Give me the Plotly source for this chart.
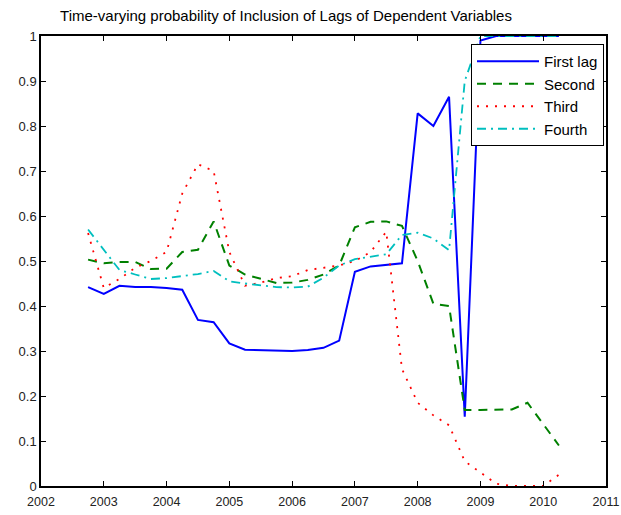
import plotly.graph_objects as go

# quarterly dates (fractional years)
dates = [2002.75, 2003.0, 2003.25, 2003.5, 2003.75, 2004.0, 2004.25, 2004.5,
         2004.75, 2005.0, 2005.25, 2005.5, 2005.75, 2006.0, 2006.25, 2006.5,
         2006.75, 2007.0, 2007.25, 2007.5, 2007.75, 2008.0, 2008.25, 2008.5,
         2008.75, 2009.0, 2009.25, 2009.5, 2009.75, 2010.0, 2010.25]

first_lag = [0.442, 0.427, 0.445, 0.442, 0.442, 0.440, 0.436, 0.369, 0.364, 0.317,
             0.303, 0.302, 0.300, 0.300, 0.302, 0.307, 0.323, 0.476, 0.488, 0.492,
             0.495, 0.828, 0.800, 0.865, 0.154, 0.990, 1.0, 1.0, 1.0, 1.0, 1.0]

second = [0.503, 0.495, 0.498, 0.498, 0.482, 0.483, 0.520, 0.525, 0.588, 0.490,
          0.470, 0.460, 0.451, 0.452, 0.458, 0.470, 0.490, 0.575, 0.587, 0.588,
          0.578, 0.500, 0.405, 0.400, 0.169, 0.169, 0.169, 0.170, 0.185, 0.137, 0.090]

third = [0.562, 0.440, 0.460, 0.485, 0.500, 0.520, 0.650, 0.715, 0.700, 0.520,
         0.445, 0.452, 0.462, 0.466, 0.480, 0.485, 0.490, 0.500, 0.520, 0.565,
         0.260, 0.185, 0.157, 0.135, 0.055, 0.030, 0.005, 0.0, 0.0, 0.0, 0.025]

fourth = [0.570, 0.525, 0.480, 0.470, 0.460, 0.462, 0.467, 0.471, 0.478, 0.455,
          0.450, 0.446, 0.442, 0.441, 0.443, 0.463, 0.490, 0.504, 0.510, 0.515,
          0.558, 0.563, 0.550, 0.524, 0.900, 1.0, 1.0, 1.0, 1.0, 1.0, 1.0]

years = list(range(2002, 2012))
yticks = [i / 10 for i in range(11)]
ylabels = ["0", "0.1", "0.2", "0.3", "0.4", "0.5", "0.6", "0.7", "0.8", "0.9", "1"]

font = "Liberation Sans, Arial, sans-serif"

W, H = 621, 515

fig = go.Figure()
fig.add_trace(go.Scatter(x=dates, y=first_lag, mode="lines", name="First lag",
                         line=dict(color="#0000ff", width=2)))
fig.add_trace(go.Scatter(x=dates, y=second, mode="lines", name="Second",
                         line=dict(color="#008000", width=2, dash="9px,7px")))
fig.add_trace(go.Scatter(x=dates, y=third, mode="lines", name="Third",
                         line=dict(color="#ff0000", width=1.8, dash="2px,7px")))
fig.add_trace(go.Scatter(x=dates, y=fourth, mode="lines", name="Fourth",
                         line=dict(color="#00bfbf", width=1.8, dash="9px,5px,2px,5px")))

axis_common = dict(showline=True, linecolor="black", linewidth=1.5, mirror="ticks",
                   ticks="inside", ticklen=5, tickcolor="black", showgrid=False,
                   zeroline=False, automargin=False)

fig.update_layout(
    width=W, height=H,
    margin=dict(l=41, r=15, t=36, b=29),
    paper_bgcolor="white", plot_bgcolor="white",
    font=dict(family=font, size=13, color="black"),
    title=dict(text="Time-varying probability of Inclusion of Lags of Dependent Variables",
               x=286 / W, xanchor="center", xref="container",
               y=1 - 16 / H, yanchor="middle", yref="container", automargin=False,
               font=dict(family=font, size=15, color="black")),
    xaxis=dict(range=[2002, 2011], tickvals=years, ticktext=[str(y) for y in years],
               ticklabelstandoff=3, tickfont=dict(family=font, size=12.5, color="#222"),
               **axis_common),
    yaxis=dict(range=[0, 1], tickvals=yticks, ticktext=ylabels,
               tickfont=dict(family=font, size=13, color="#222"), **axis_common),
    legend=dict(x=(604 - 41) / 565, y=(486 - 44) / 450, xanchor="right", yanchor="top",
                bgcolor="white", bordercolor="black", borderwidth=1,
                itemwidth=62, font=dict(family=font, size=15, color="black")),
    showlegend=True,
)

# drop the page's default body margin so the figure sits at the window corner
fig.write_html("out.html", config={"displayModeBar": False},
               post_script="document.body.style.margin='0';"
                           "document.body.style.overflow='hidden';")
